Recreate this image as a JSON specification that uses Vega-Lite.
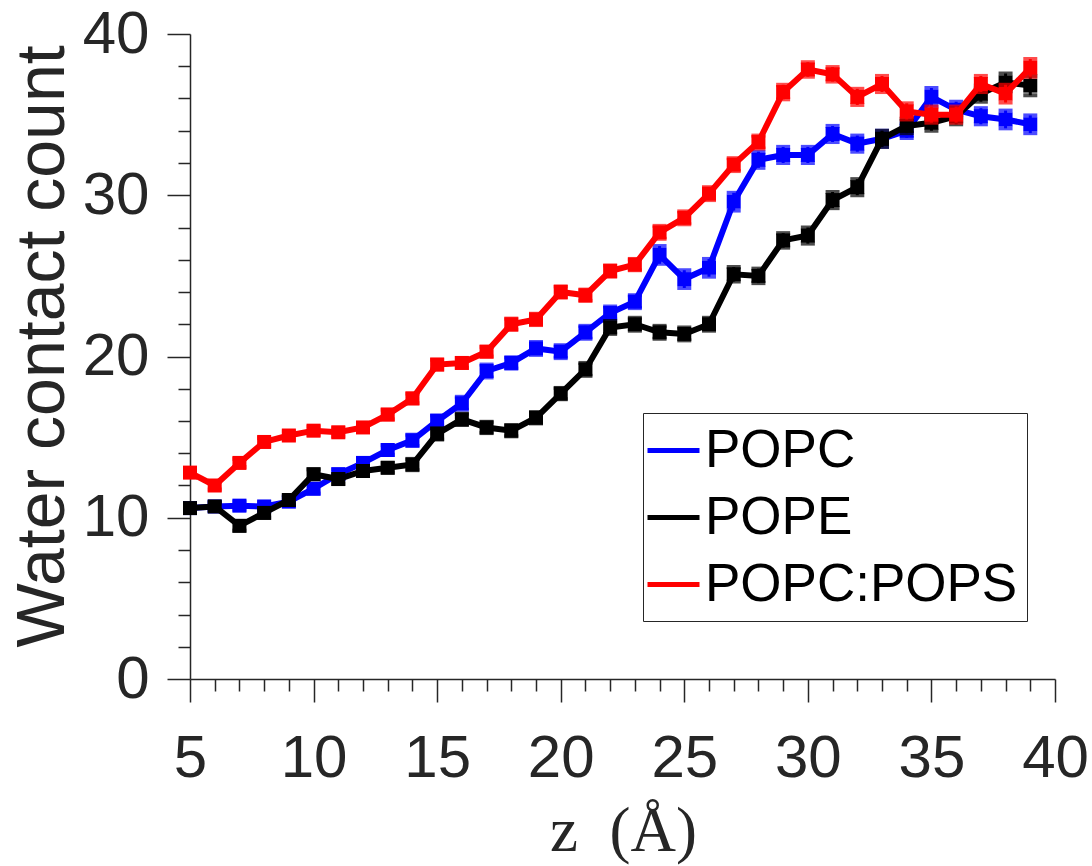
{
"$schema":"https://vega.github.io/schema/vega-lite/v6.json",
"width":865,"height":645,
"autosize":{"type":"none"},
"padding":{"left":190,"top":34,"right":37,"bottom":187},
"background":"white",
"config":{"view":{"stroke":null},
 "axis":{"grid":false,"domainColor":"#262626","tickColor":"#262626","labelColor":"#262626","titleColor":"#262626","domainWidth":1.5,"tickWidth":1.5,"labelFont":"Liberation Sans","labelFontSize":60,"titleFontWeight":"normal","labelOverlap":false,"labelFlush":false}},
"data":{"values":[
{"z":5,"lipid":"POPC","count":10.6,"lo":10.35,"hi":10.85},
{"z":6,"lipid":"POPC","count":10.7,"lo":10.45,"hi":10.95},
{"z":7,"lipid":"POPC","count":10.75,"lo":10.5,"hi":11.0},
{"z":8,"lipid":"POPC","count":10.7,"lo":10.45,"hi":10.95},
{"z":9,"lipid":"POPC","count":11.0,"lo":10.75,"hi":11.25},
{"z":10,"lipid":"POPC","count":11.8,"lo":11.5,"hi":12.1},
{"z":11,"lipid":"POPC","count":12.7,"lo":12.4,"hi":13.0},
{"z":12,"lipid":"POPC","count":13.4,"lo":13.1,"hi":13.7},
{"z":13,"lipid":"POPC","count":14.2,"lo":13.9,"hi":14.5},
{"z":14,"lipid":"POPC","count":14.8,"lo":14.45,"hi":15.15},
{"z":15,"lipid":"POPC","count":16.0,"lo":15.65,"hi":16.35},
{"z":16,"lipid":"POPC","count":17.1,"lo":16.7,"hi":17.5},
{"z":17,"lipid":"POPC","count":19.1,"lo":18.7,"hi":19.5},
{"z":18,"lipid":"POPC","count":19.6,"lo":19.25,"hi":19.95},
{"z":19,"lipid":"POPC","count":20.5,"lo":20.1,"hi":20.9},
{"z":20,"lipid":"POPC","count":20.3,"lo":19.9,"hi":20.7},
{"z":21,"lipid":"POPC","count":21.5,"lo":21.1,"hi":21.9},
{"z":22,"lipid":"POPC","count":22.7,"lo":22.3,"hi":23.1},
{"z":23,"lipid":"POPC","count":23.4,"lo":23.0,"hi":23.8},
{"z":24,"lipid":"POPC","count":26.3,"lo":25.75,"hi":26.85},
{"z":25,"lipid":"POPC","count":24.8,"lo":24.25,"hi":25.35},
{"z":26,"lipid":"POPC","count":25.5,"lo":24.95,"hi":26.05},
{"z":27,"lipid":"POPC","count":29.6,"lo":29.05,"hi":30.15},
{"z":28,"lipid":"POPC","count":32.2,"lo":31.7,"hi":32.7},
{"z":29,"lipid":"POPC","count":32.5,"lo":32.0,"hi":33.0},
{"z":30,"lipid":"POPC","count":32.5,"lo":32.0,"hi":33.0},
{"z":31,"lipid":"POPC","count":33.8,"lo":33.3,"hi":34.3},
{"z":32,"lipid":"POPC","count":33.2,"lo":32.7,"hi":33.7},
{"z":33,"lipid":"POPC","count":33.5,"lo":33.0,"hi":34.0},
{"z":34,"lipid":"POPC","count":34.0,"lo":33.55,"hi":34.45},
{"z":35,"lipid":"POPC","count":36.1,"lo":35.55,"hi":36.65},
{"z":36,"lipid":"POPC","count":35.3,"lo":34.8,"hi":35.8},
{"z":37,"lipid":"POPC","count":34.9,"lo":34.4,"hi":35.4},
{"z":38,"lipid":"POPC","count":34.7,"lo":34.15,"hi":35.25},
{"z":39,"lipid":"POPC","count":34.4,"lo":33.85,"hi":34.95},
{"z":5,"lipid":"POPE","count":10.6,"lo":10.35,"hi":10.85},
{"z":6,"lipid":"POPE","count":10.7,"lo":10.45,"hi":10.95},
{"z":7,"lipid":"POPE","count":9.5,"lo":9.2,"hi":9.8},
{"z":8,"lipid":"POPE","count":10.3,"lo":10.0,"hi":10.6},
{"z":9,"lipid":"POPE","count":11.1,"lo":10.8,"hi":11.4},
{"z":10,"lipid":"POPE","count":12.7,"lo":12.4,"hi":13.0},
{"z":11,"lipid":"POPE","count":12.4,"lo":12.1,"hi":12.7},
{"z":12,"lipid":"POPE","count":12.9,"lo":12.6,"hi":13.2},
{"z":13,"lipid":"POPE","count":13.1,"lo":12.8,"hi":13.4},
{"z":14,"lipid":"POPE","count":13.3,"lo":12.95,"hi":13.65},
{"z":15,"lipid":"POPE","count":15.2,"lo":14.85,"hi":15.55},
{"z":16,"lipid":"POPE","count":16.1,"lo":15.75,"hi":16.45},
{"z":17,"lipid":"POPE","count":15.6,"lo":15.25,"hi":15.95},
{"z":18,"lipid":"POPE","count":15.4,"lo":15.05,"hi":15.75},
{"z":19,"lipid":"POPE","count":16.2,"lo":15.85,"hi":16.55},
{"z":20,"lipid":"POPE","count":17.7,"lo":17.35,"hi":18.05},
{"z":21,"lipid":"POPE","count":19.2,"lo":18.8,"hi":19.6},
{"z":22,"lipid":"POPE","count":21.8,"lo":21.4,"hi":22.2},
{"z":23,"lipid":"POPE","count":22.0,"lo":21.6,"hi":22.4},
{"z":24,"lipid":"POPE","count":21.5,"lo":21.1,"hi":21.9},
{"z":25,"lipid":"POPE","count":21.4,"lo":21.0,"hi":21.8},
{"z":26,"lipid":"POPE","count":22.0,"lo":21.6,"hi":22.4},
{"z":27,"lipid":"POPE","count":25.1,"lo":24.65,"hi":25.55},
{"z":28,"lipid":"POPE","count":25.0,"lo":24.55,"hi":25.45},
{"z":29,"lipid":"POPE","count":27.2,"lo":26.75,"hi":27.65},
{"z":30,"lipid":"POPE","count":27.5,"lo":27.0,"hi":28.0},
{"z":31,"lipid":"POPE","count":29.7,"lo":29.2,"hi":30.2},
{"z":32,"lipid":"POPE","count":30.5,"lo":30.0,"hi":31.0},
{"z":33,"lipid":"POPE","count":33.5,"lo":33.0,"hi":34.0},
{"z":34,"lipid":"POPE","count":34.3,"lo":33.85,"hi":34.75},
{"z":35,"lipid":"POPE","count":34.5,"lo":34.0,"hi":35.0},
{"z":36,"lipid":"POPE","count":34.9,"lo":34.4,"hi":35.4},
{"z":37,"lipid":"POPE","count":36.3,"lo":35.8,"hi":36.8},
{"z":38,"lipid":"POPE","count":37.0,"lo":36.45,"hi":37.55},
{"z":39,"lipid":"POPE","count":36.8,"lo":36.2,"hi":37.4},
{"z":5,"lipid":"POPC:POPS","count":12.8,"lo":12.55,"hi":13.05},
{"z":6,"lipid":"POPC:POPS","count":12.0,"lo":11.75,"hi":12.25},
{"z":7,"lipid":"POPC:POPS","count":13.4,"lo":13.15,"hi":13.65},
{"z":8,"lipid":"POPC:POPS","count":14.7,"lo":14.45,"hi":14.95},
{"z":9,"lipid":"POPC:POPS","count":15.1,"lo":14.85,"hi":15.35},
{"z":10,"lipid":"POPC:POPS","count":15.4,"lo":15.15,"hi":15.65},
{"z":11,"lipid":"POPC:POPS","count":15.3,"lo":15.05,"hi":15.55},
{"z":12,"lipid":"POPC:POPS","count":15.6,"lo":15.35,"hi":15.85},
{"z":13,"lipid":"POPC:POPS","count":16.4,"lo":16.1,"hi":16.7},
{"z":14,"lipid":"POPC:POPS","count":17.4,"lo":17.1,"hi":17.7},
{"z":15,"lipid":"POPC:POPS","count":19.5,"lo":19.2,"hi":19.8},
{"z":16,"lipid":"POPC:POPS","count":19.6,"lo":19.3,"hi":19.9},
{"z":17,"lipid":"POPC:POPS","count":20.3,"lo":20.0,"hi":20.6},
{"z":18,"lipid":"POPC:POPS","count":22.0,"lo":21.65,"hi":22.35},
{"z":19,"lipid":"POPC:POPS","count":22.3,"lo":21.95,"hi":22.65},
{"z":20,"lipid":"POPC:POPS","count":24.0,"lo":23.65,"hi":24.35},
{"z":21,"lipid":"POPC:POPS","count":23.8,"lo":23.45,"hi":24.15},
{"z":22,"lipid":"POPC:POPS","count":25.3,"lo":24.95,"hi":25.65},
{"z":23,"lipid":"POPC:POPS","count":25.7,"lo":25.35,"hi":26.05},
{"z":24,"lipid":"POPC:POPS","count":27.7,"lo":27.3,"hi":28.1},
{"z":25,"lipid":"POPC:POPS","count":28.6,"lo":28.2,"hi":29.0},
{"z":26,"lipid":"POPC:POPS","count":30.1,"lo":29.7,"hi":30.5},
{"z":27,"lipid":"POPC:POPS","count":31.9,"lo":31.5,"hi":32.3},
{"z":28,"lipid":"POPC:POPS","count":33.3,"lo":32.9,"hi":33.7},
{"z":29,"lipid":"POPC:POPS","count":36.4,"lo":35.95,"hi":36.85},
{"z":30,"lipid":"POPC:POPS","count":37.8,"lo":37.35,"hi":38.25},
{"z":31,"lipid":"POPC:POPS","count":37.5,"lo":37.05,"hi":37.95},
{"z":32,"lipid":"POPC:POPS","count":36.1,"lo":35.6,"hi":36.6},
{"z":33,"lipid":"POPC:POPS","count":36.9,"lo":36.4,"hi":37.4},
{"z":34,"lipid":"POPC:POPS","count":35.2,"lo":34.7,"hi":35.7},
{"z":35,"lipid":"POPC:POPS","count":35.0,"lo":34.5,"hi":35.5},
{"z":36,"lipid":"POPC:POPS","count":35.0,"lo":34.5,"hi":35.5},
{"z":37,"lipid":"POPC:POPS","count":36.9,"lo":36.4,"hi":37.4},
{"z":38,"lipid":"POPC:POPS","count":36.3,"lo":35.75,"hi":36.85},
{"z":39,"lipid":"POPC:POPS","count":37.9,"lo":37.35,"hi":38.45}
]},
"encoding":{
 "x":{"field":"z","type":"quantitative","scale":{"domain":[5,40],"nice":false,"zero":false},
  "axis":{"values":[5,6,7,8,9,10,11,12,13,14,15,16,17,18,19,20,21,22,23,24,25,26,27,28,29,30,31,32,33,34,35,36,37,38,39,40],
   "labelExpr":"datum.value % 5 === 0 ? datum.label : ''",
   "tickSize":{"condition":{"test":"datum.value % 5 === 0","value":23},"value":12},
   "labelPadding":27,
   "title":"z\u2002(Å)","titleFont":"Liberation Serif","titleFontSize":63,"titleX":433,"titleY":171,"titleBaseline":"alphabetic","titleAnchor":null,"titleAlign":"center"}},
 "color":{"field":"lipid","type":"nominal",
  "scale":{"domain":["POPC","POPE","POPC:POPS"],"range":["#0000ff","#000000","#ff0000"]},
  "legend":{"title":null,"orient":"none","legendX":453,"legendY":379,"symbolType":"stroke","symbolSize":2704,"symbolStrokeWidth":5,"symbolOpacity":1,"symbolOffset":-7,"labelFont":"Liberation Sans","labelFontSize":53,"labelColor":"#000000","labelOffset":3,"padding":9,"rowPadding":11,"strokeColor":"#262626","fillColor":"white","labelLimit":0}}
},
"layer":[
 {"transform":[{"filter":"datum.lipid === 'POPC'"}],
  "layer":[
   {"mark":{"type":"line","strokeWidth":6},"encoding":{"y":{"field":"count","type":"quantitative","title":"Water contact count","scale":{"domain":[0,40],"nice":false},"axis":{"values":[0,2,4,6,8,10,12,14,16,18,20,22,24,26,28,30,32,34,36,38,40],"labelExpr":"datum.value % 10 === 0 ? datum.label : ''","tickSize":{"condition":{"test":"datum.value % 10 === 0","value":23},"value":12},"labelPadding":18,"titleFont":"Liberation Sans","titleFontSize":68,"titleX":-127,"titleY":312,"titleBaseline":"alphabetic","titleAnchor":null,"titleAlign":"center","titleAngle":-90}}}},
   {"mark":{"type":"rule","strokeWidth":3},"encoding":{"y":{"field":"lo","type":"quantitative","title":"Water contact count","axis":{"values":[0,2,4,6,8,10,12,14,16,18,20,22,24,26,28,30,32,34,36,38,40],"labelExpr":"datum.value % 10 === 0 ? datum.label : ''","tickSize":{"condition":{"test":"datum.value % 10 === 0","value":23},"value":12},"labelPadding":18,"titleFont":"Liberation Sans","titleFontSize":68,"titleX":-127,"titleY":312,"titleBaseline":"alphabetic","titleAnchor":null,"titleAlign":"center","titleAngle":-90}},"y2":{"field":"hi"}}},
   {"mark":{"type":"tick","orient":"horizontal","size":14,"thickness":4},"encoding":{"y":{"field":"lo","type":"quantitative","title":"Water contact count","axis":{"values":[0,2,4,6,8,10,12,14,16,18,20,22,24,26,28,30,32,34,36,38,40],"labelExpr":"datum.value % 10 === 0 ? datum.label : ''","tickSize":{"condition":{"test":"datum.value % 10 === 0","value":23},"value":12},"labelPadding":18,"titleFont":"Liberation Sans","titleFontSize":68,"titleX":-127,"titleY":312,"titleBaseline":"alphabetic","titleAnchor":null,"titleAlign":"center","titleAngle":-90}}}},
   {"mark":{"type":"tick","orient":"horizontal","size":14,"thickness":4},"encoding":{"y":{"field":"hi","type":"quantitative","title":"Water contact count","axis":{"values":[0,2,4,6,8,10,12,14,16,18,20,22,24,26,28,30,32,34,36,38,40],"labelExpr":"datum.value % 10 === 0 ? datum.label : ''","tickSize":{"condition":{"test":"datum.value % 10 === 0","value":23},"value":12},"labelPadding":18,"titleFont":"Liberation Sans","titleFontSize":68,"titleX":-127,"titleY":312,"titleBaseline":"alphabetic","titleAnchor":null,"titleAlign":"center","titleAngle":-90}}}},
   {"mark":{"type":"point","shape":"square","filled":true,"size":196,"opacity":1},"encoding":{"y":{"field":"count","type":"quantitative","title":"Water contact count","axis":{"values":[0,2,4,6,8,10,12,14,16,18,20,22,24,26,28,30,32,34,36,38,40],"labelExpr":"datum.value % 10 === 0 ? datum.label : ''","tickSize":{"condition":{"test":"datum.value % 10 === 0","value":23},"value":12},"labelPadding":18,"titleFont":"Liberation Sans","titleFontSize":68,"titleX":-127,"titleY":312,"titleBaseline":"alphabetic","titleAnchor":null,"titleAlign":"center","titleAngle":-90}}}}
  ]},
 {"transform":[{"filter":"datum.lipid === 'POPE'"}],
  "layer":[
   {"mark":{"type":"line","strokeWidth":6},"encoding":{"y":{"field":"count","type":"quantitative","title":"Water contact count","axis":{"values":[0,2,4,6,8,10,12,14,16,18,20,22,24,26,28,30,32,34,36,38,40],"labelExpr":"datum.value % 10 === 0 ? datum.label : ''","tickSize":{"condition":{"test":"datum.value % 10 === 0","value":23},"value":12},"labelPadding":18,"titleFont":"Liberation Sans","titleFontSize":68,"titleX":-127,"titleY":312,"titleBaseline":"alphabetic","titleAnchor":null,"titleAlign":"center","titleAngle":-90}}}},
   {"mark":{"type":"rule","strokeWidth":3},"encoding":{"y":{"field":"lo","type":"quantitative","title":"Water contact count","axis":{"values":[0,2,4,6,8,10,12,14,16,18,20,22,24,26,28,30,32,34,36,38,40],"labelExpr":"datum.value % 10 === 0 ? datum.label : ''","tickSize":{"condition":{"test":"datum.value % 10 === 0","value":23},"value":12},"labelPadding":18,"titleFont":"Liberation Sans","titleFontSize":68,"titleX":-127,"titleY":312,"titleBaseline":"alphabetic","titleAnchor":null,"titleAlign":"center","titleAngle":-90}},"y2":{"field":"hi"}}},
   {"mark":{"type":"tick","orient":"horizontal","size":14,"thickness":4},"encoding":{"y":{"field":"lo","type":"quantitative","title":"Water contact count","axis":{"values":[0,2,4,6,8,10,12,14,16,18,20,22,24,26,28,30,32,34,36,38,40],"labelExpr":"datum.value % 10 === 0 ? datum.label : ''","tickSize":{"condition":{"test":"datum.value % 10 === 0","value":23},"value":12},"labelPadding":18,"titleFont":"Liberation Sans","titleFontSize":68,"titleX":-127,"titleY":312,"titleBaseline":"alphabetic","titleAnchor":null,"titleAlign":"center","titleAngle":-90}}}},
   {"mark":{"type":"tick","orient":"horizontal","size":14,"thickness":4},"encoding":{"y":{"field":"hi","type":"quantitative","title":"Water contact count","axis":{"values":[0,2,4,6,8,10,12,14,16,18,20,22,24,26,28,30,32,34,36,38,40],"labelExpr":"datum.value % 10 === 0 ? datum.label : ''","tickSize":{"condition":{"test":"datum.value % 10 === 0","value":23},"value":12},"labelPadding":18,"titleFont":"Liberation Sans","titleFontSize":68,"titleX":-127,"titleY":312,"titleBaseline":"alphabetic","titleAnchor":null,"titleAlign":"center","titleAngle":-90}}}},
   {"mark":{"type":"point","shape":"square","filled":true,"size":196,"opacity":1},"encoding":{"y":{"field":"count","type":"quantitative","title":"Water contact count","axis":{"values":[0,2,4,6,8,10,12,14,16,18,20,22,24,26,28,30,32,34,36,38,40],"labelExpr":"datum.value % 10 === 0 ? datum.label : ''","tickSize":{"condition":{"test":"datum.value % 10 === 0","value":23},"value":12},"labelPadding":18,"titleFont":"Liberation Sans","titleFontSize":68,"titleX":-127,"titleY":312,"titleBaseline":"alphabetic","titleAnchor":null,"titleAlign":"center","titleAngle":-90}}}}
  ]},
 {"transform":[{"filter":"datum.lipid === 'POPC:POPS'"}],
  "layer":[
   {"mark":{"type":"line","strokeWidth":6},"encoding":{"y":{"field":"count","type":"quantitative","title":"Water contact count","axis":{"values":[0,2,4,6,8,10,12,14,16,18,20,22,24,26,28,30,32,34,36,38,40],"labelExpr":"datum.value % 10 === 0 ? datum.label : ''","tickSize":{"condition":{"test":"datum.value % 10 === 0","value":23},"value":12},"labelPadding":18,"titleFont":"Liberation Sans","titleFontSize":68,"titleX":-127,"titleY":312,"titleBaseline":"alphabetic","titleAnchor":null,"titleAlign":"center","titleAngle":-90}}}},
   {"mark":{"type":"rule","strokeWidth":3},"encoding":{"y":{"field":"lo","type":"quantitative","title":"Water contact count","axis":{"values":[0,2,4,6,8,10,12,14,16,18,20,22,24,26,28,30,32,34,36,38,40],"labelExpr":"datum.value % 10 === 0 ? datum.label : ''","tickSize":{"condition":{"test":"datum.value % 10 === 0","value":23},"value":12},"labelPadding":18,"titleFont":"Liberation Sans","titleFontSize":68,"titleX":-127,"titleY":312,"titleBaseline":"alphabetic","titleAnchor":null,"titleAlign":"center","titleAngle":-90}},"y2":{"field":"hi"}}},
   {"mark":{"type":"tick","orient":"horizontal","size":14,"thickness":4},"encoding":{"y":{"field":"lo","type":"quantitative","title":"Water contact count","axis":{"values":[0,2,4,6,8,10,12,14,16,18,20,22,24,26,28,30,32,34,36,38,40],"labelExpr":"datum.value % 10 === 0 ? datum.label : ''","tickSize":{"condition":{"test":"datum.value % 10 === 0","value":23},"value":12},"labelPadding":18,"titleFont":"Liberation Sans","titleFontSize":68,"titleX":-127,"titleY":312,"titleBaseline":"alphabetic","titleAnchor":null,"titleAlign":"center","titleAngle":-90}}}},
   {"mark":{"type":"tick","orient":"horizontal","size":14,"thickness":4},"encoding":{"y":{"field":"hi","type":"quantitative","title":"Water contact count","axis":{"values":[0,2,4,6,8,10,12,14,16,18,20,22,24,26,28,30,32,34,36,38,40],"labelExpr":"datum.value % 10 === 0 ? datum.label : ''","tickSize":{"condition":{"test":"datum.value % 10 === 0","value":23},"value":12},"labelPadding":18,"titleFont":"Liberation Sans","titleFontSize":68,"titleX":-127,"titleY":312,"titleBaseline":"alphabetic","titleAnchor":null,"titleAlign":"center","titleAngle":-90}}}},
   {"mark":{"type":"point","shape":"square","filled":true,"size":196,"opacity":1},"encoding":{"y":{"field":"count","type":"quantitative","title":"Water contact count","axis":{"values":[0,2,4,6,8,10,12,14,16,18,20,22,24,26,28,30,32,34,36,38,40],"labelExpr":"datum.value % 10 === 0 ? datum.label : ''","tickSize":{"condition":{"test":"datum.value % 10 === 0","value":23},"value":12},"labelPadding":18,"titleFont":"Liberation Sans","titleFontSize":68,"titleX":-127,"titleY":312,"titleBaseline":"alphabetic","titleAnchor":null,"titleAlign":"center","titleAngle":-90}}}}
  ]}
]
}
